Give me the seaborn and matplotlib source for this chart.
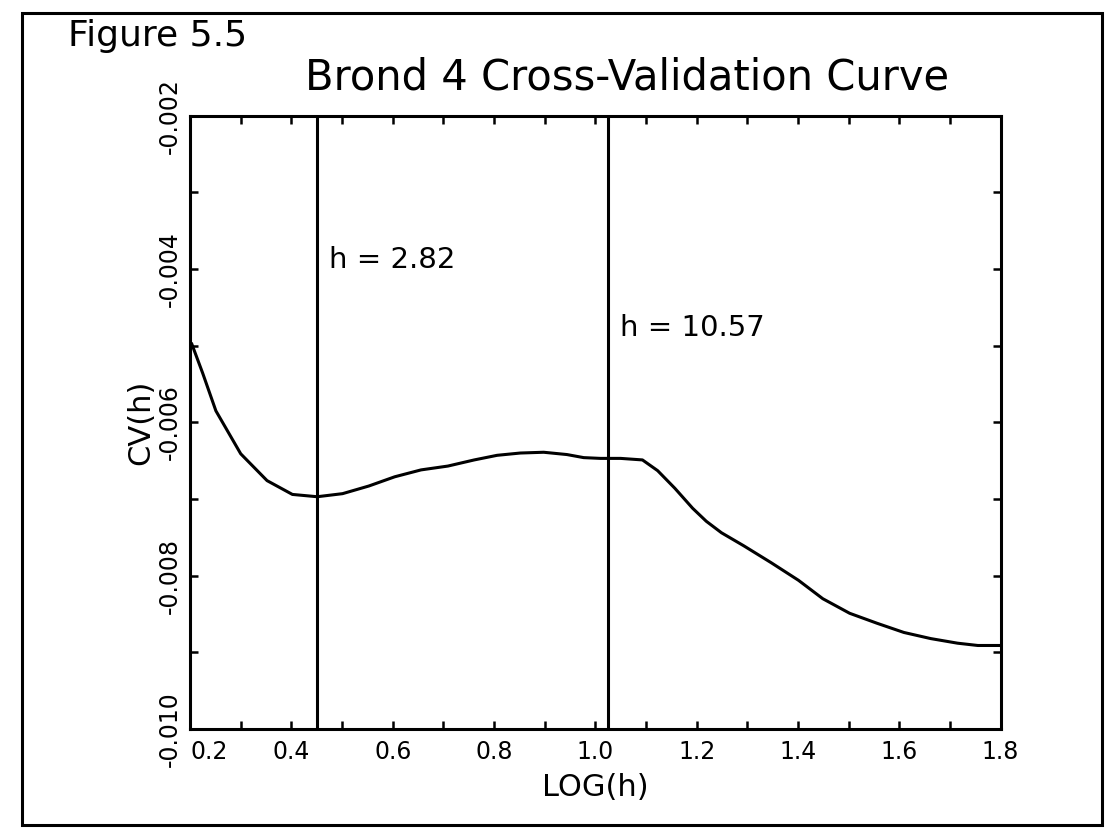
import numpy as np
import seaborn as sns
import matplotlib.pyplot as plt
from matplotlib.patches import Rectangle
from matplotlib.ticker import MultipleLocator

# curve
log_h = [0.203, 0.225, 0.251, 0.300, 0.352, 0.402, 0.451, 0.501, 0.553, 0.604,
         0.656, 0.709, 0.761, 0.806, 0.852, 0.898, 0.944, 0.977, 1.010, 1.050,
         1.093, 1.123, 1.157, 1.192, 1.219, 1.249, 1.293, 1.347, 1.401, 1.449,
         1.502, 1.556, 1.609, 1.662, 1.715, 1.755, 1.800]
cv = [-0.00497, -0.00536, -0.00585, -0.00641, -0.00676, -0.00694, -0.00697,
      -0.00693, -0.00683, -0.00671, -0.00662, -0.00657, -0.00649, -0.00643,
      -0.00640, -0.00639, -0.00642, -0.00646, -0.00647, -0.00647, -0.00649,
      -0.00663, -0.00686, -0.00712, -0.00729, -0.00744, -0.00761, -0.00783,
      -0.00806, -0.00830, -0.00849, -0.00862, -0.00874, -0.00882, -0.00888,
      -0.00891, -0.00891]

h_marks = [2.82, 10.57]
h_labels = ["h = 2.82", "h = 10.57"]
label_y = [-0.00388, -0.00477]

x_ticks = [0.2, 0.4, 0.6, 0.8, 1.0, 1.2, 1.4, 1.6, 1.8]
y_ticks = [-0.010, -0.008, -0.006, -0.004, -0.002]

sns.set_style("white")
plt.rcParams['font.family'] = ['DejaVu Sans']
plt.rcParams['axes.unicode_minus'] = False
plt.rcParams['text.color'] = 'black'
plt.rcParams['axes.labelcolor'] = 'black'
plt.rcParams['xtick.color'] = 'black'
plt.rcParams['ytick.color'] = 'black'

fig = plt.figure(figsize=(11.18, 8.38), dpi=100)
ax = fig.add_axes([0.170, 0.130, 0.725, 0.732])

sns.lineplot(x=log_h, y=cv, color='black', linewidth=2.2, ax=ax)
for h, lab, ly in zip(h_marks, h_labels, label_y):
    ax.axvline(np.log10(h), color='black', linewidth=2.2)
    ax.text(np.log10(h) + 0.025, ly, lab, fontsize=21, ha='left', va='center')

ax.set_xlim(0.2, 1.8)
ax.set_ylim(-0.010, -0.002)
ax.set_xticks(x_ticks)
ax.set_xticklabels([f"{v:.1f}" for v in x_ticks], fontsize=17)
ax.set_yticks(y_ticks)
ax.set_yticklabels([f"{v:.3f}" for v in y_ticks], fontsize=17,
                   rotation=90, va='center')
ax.get_xticklabels()[0].set_horizontalalignment('left')
ax.xaxis.set_minor_locator(MultipleLocator(0.1))
ax.yaxis.set_minor_locator(MultipleLocator(0.001))
ax.tick_params(which='both', direction='in', top=True, right=True,
               bottom=True, left=True, width=1.8, length=6, color='black')
ax.tick_params(axis='x', pad=8)
ax.tick_params(axis='y', pad=6)

for s in ax.spines.values():
    s.set_linewidth(2.2)
    s.set_color('black')

ax.set_xlabel("LOG(h)", fontsize=22, labelpad=6)
ax.set_ylabel("CV(h)", fontsize=22, labelpad=2)

fig.text(0.561, 0.907, "Brond 4 Cross-Validation Curve", fontsize=30,
         ha='center', va='center')
fig.text(0.061, 0.957, "Figure 5.5", fontsize=26, ha='left', va='center')

fig.patches.append(Rectangle((0.020, 0.0155), 0.966, 0.969, transform=fig.transFigure,
                             fill=False, edgecolor='black', linewidth=2.2))

fig.savefig("out.png", dpi=100)
